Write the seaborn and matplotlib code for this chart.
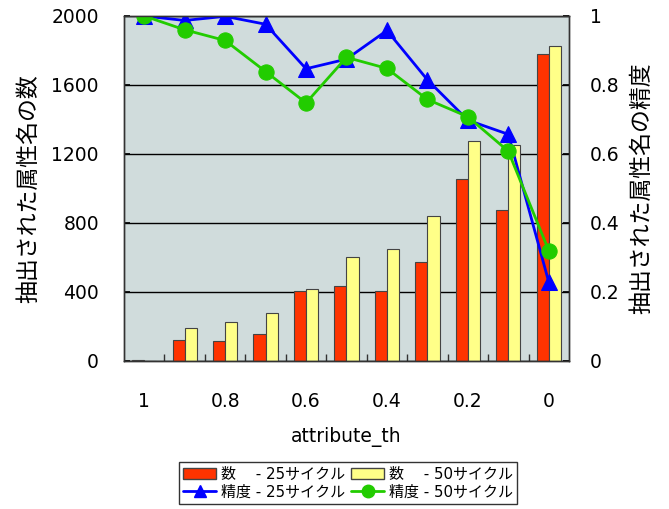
import numpy as np
import pandas as pd
import matplotlib
matplotlib.use("Agg")
import matplotlib.pyplot as plt
import seaborn as sns
from matplotlib.patches import Patch
from matplotlib.lines import Line2D
from matplotlib.ticker import FixedLocator

# data
th_labels = ["1", "0.9", "0.8", "0.7", "0.6", "0.5", "0.4", "0.3", "0.2", "0.1", "0"]
count_25 = [5, 122, 118, 155, 404, 437, 408, 572, 1053, 877, 1781]
count_50 = [0, 191, 228, 278, 417, 603, 647, 838, 1277, 1254, 1826]
prec_25 = [1.0, 0.987, 0.999, 0.976, 0.847, 0.875, 0.958, 0.815, 0.698, 0.657, 0.229]
prec_50 = [1.0, 0.960, 0.929, 0.839, 0.748, 0.880, 0.848, 0.758, 0.708, 0.608, 0.320]
series_names = ["数　 - 25サイクル", "数　 - 50サイクル", "精度 - 25サイクル", "精度 - 50サイクル"]

red = "#ff3300"
yellow = "#ffff88"
blue = "#0000ff"
green = "#22cc00"

sns.set_theme(style="ticks")
plt.rcParams["font.family"] = ["DejaVu Sans", "Noto Sans CJK JP"]
plt.rcParams.update({"text.color": "black", "axes.labelcolor": "black",
                     "xtick.color": "black", "ytick.color": "black"})

df = pd.DataFrame({
    "th": th_labels * 2,
    "count": count_25 + count_50,
    "series": [series_names[0]] * len(th_labels) + [series_names[1]] * len(th_labels),
})

fig, ax = plt.subplots(figsize=(6.69, 5.09), dpi=100)
fig.subplots_adjust(left=0.1853, right=0.8505, top=0.9686, bottom=0.2908)
ax.set_facecolor("#d0dcdc")
ax.set_axisbelow(True)

sns.barplot(data=df, x="th", y="count", hue="series", order=th_labels,
            palette=[red, yellow], saturation=1, width=0.6,
            edgecolor="#444444", linewidth=0.8, legend=False, ax=ax)

ax2 = ax.twinx()
pos = np.arange(len(th_labels))
sns.lineplot(x=pos, y=prec_25, ax=ax2, color=blue, marker="^", markersize=11,
             markeredgecolor=blue, linewidth=2)
sns.lineplot(x=pos, y=prec_50, ax=ax2, color=green, marker="o", markersize=11,
             markeredgecolor=green, linewidth=2)

ax.set_xlim(-0.5, len(th_labels) - 0.5)
ax.set_ylim(0, 2000)
ax2.set_ylim(0, 1)

ax.set_yticks([0, 400, 800, 1200, 1600, 2000])
ax.set_yticklabels(["0", "400", "800", "1200", "1600", "2000"])
ax2.set_yticks([0, 0.2, 0.4, 0.6, 0.8, 1.0])
ax2.set_yticklabels(["0", "0.2", "0.4", "0.6", "0.8", "1"])
ax.yaxis.grid(True, color="black", linewidth=1)

ax.set_xticks(pos[::2])
ax.set_xticklabels(th_labels[::2])
ax.xaxis.set_minor_locator(FixedLocator(pos[:-1] + 0.5))
ax.tick_params(axis="x", which="major", length=0, pad=22, labelsize=13.5)
ax.tick_params(axis="x", which="minor", direction="in", length=5, color="#333333")
ax.tick_params(axis="y", direction="in", length=4, pad=18, labelsize=13.5)
ax2.tick_params(axis="y", direction="in", length=4, pad=15, labelsize=13.5)

ax.set_xlabel("attribute_th", fontsize=13.5, labelpad=12)
ax.set_ylabel("抽出された属性名の数", fontsize=16.5, labelpad=8)
ax2.set_ylabel("抽出された属性名の精度", fontsize=16.5, labelpad=8)
ax2.set_xlabel("")

for a in (ax, ax2):
    for s in a.spines.values():
        s.set_color("#333333")
        s.set_linewidth(1)

handles = [
    Patch(facecolor=red, edgecolor="#444444"),
    Line2D([], [], color=blue, marker="^", markersize=9, linewidth=2),
    Patch(facecolor=yellow, edgecolor="#444444"),
    Line2D([], [], color=green, marker="o", markersize=9, linewidth=2),
]
labels = [series_names[0], series_names[2], series_names[1], series_names[3]]
leg = fig.legend(handles, labels, ncol=2, loc="center",
                 bbox_to_anchor=(348 / 669, 1 - 483 / 509), fontsize=10.8,
                 frameon=True, fancybox=False, edgecolor="black",
                 handlelength=2.2, columnspacing=0.4, handletextpad=0.3,
                 borderpad=0.3, labelspacing=0.2)
leg.get_frame().set_linewidth(1)

fig.savefig("out.png", dpi=100)
